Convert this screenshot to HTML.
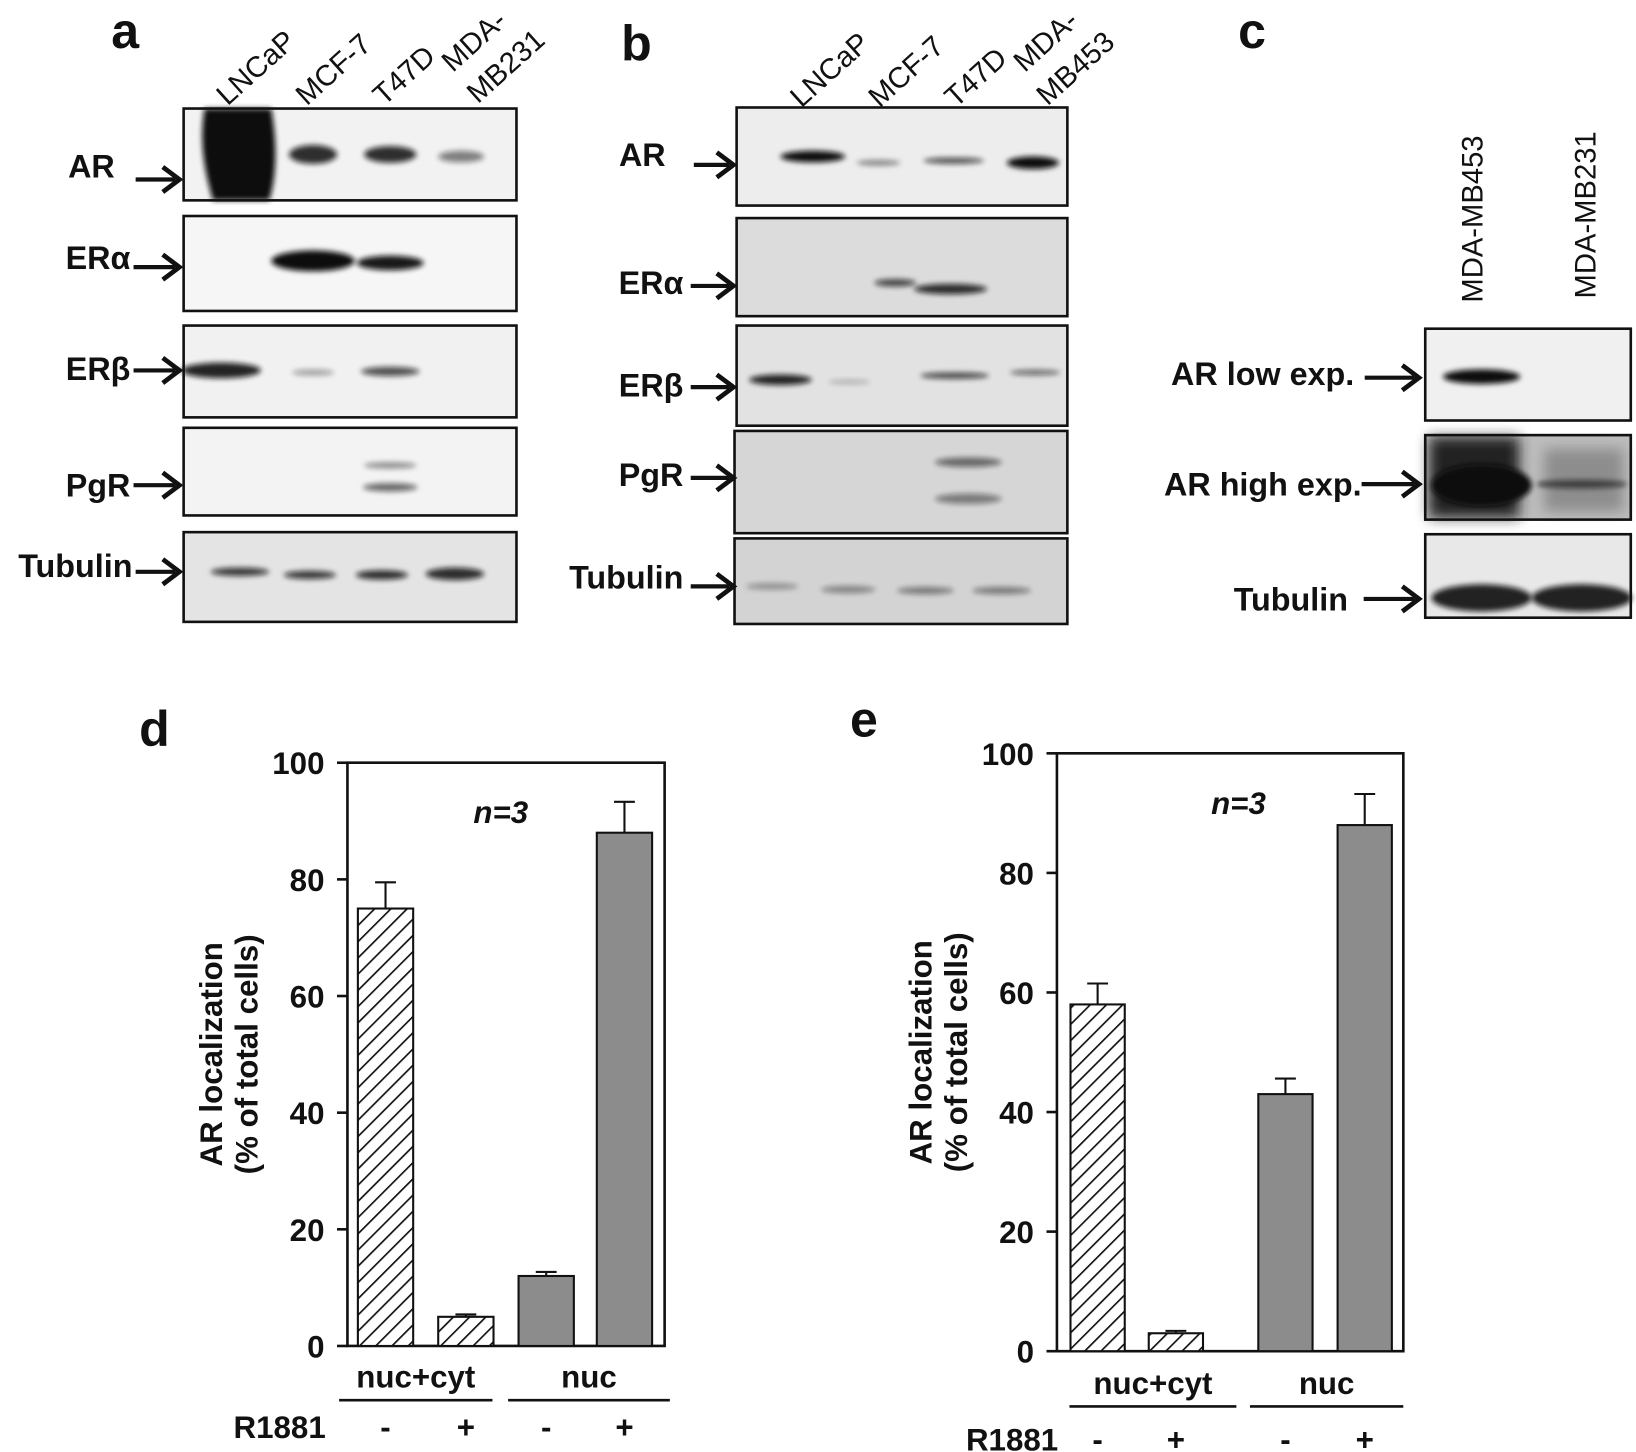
<!DOCTYPE html>
<html><head><meta charset="utf-8"><style>
html,body{margin:0;padding:0;background:#fff;}
svg{display:block;font-family:"Liberation Sans",Arial,sans-serif;}
.lbl{font-weight:bold;font-size:31px;fill:#111;}
.cl{font-size:28px;fill:#111;}
.tick{font-weight:bold;font-size:30px;fill:#111;}
.pl{font-weight:bold;font-size:48px;fill:#111;}
</style></head><body>
<svg id="fig" width="1636" height="1452" viewBox="0 0 1568 1391.6" xmlns="http://www.w3.org/2000/svg">
<defs>
<filter id="bl" x="-20%" y="-200%" width="140%" height="500%"><feGaussianBlur stdDeviation="2.5"/></filter>
<filter id="bl2" x="-20%" y="-50%" width="140%" height="200%"><feGaussianBlur stdDeviation="6"/></filter>
<pattern id="hatch" patternUnits="userSpaceOnUse" width="11" height="11" patternTransform="rotate(45)">
<rect width="11" height="11" fill="#fff"/><line x1="0" y1="0" x2="0" y2="11" stroke="#111" stroke-width="3.2"/></pattern>
</defs>
<g id="blots"></g>
<g id="chartD"></g>
<g id="chartE"></g>
</svg>
<script>
// ---- chart data ----
const categories = ["nuc+cyt -", "nuc+cyt +", "nuc -", "nuc +"];
const groups = ["nuc+cyt", "nuc"];
const treatment = ["-", "+", "-", "+"];
const yTicks = [0, 20, 40, 60, 80, 100];
const valuesD = [75, 5, 12, 88];
const errorsD = [4.5, 0.4, 0.7, 5.3];
const valuesE = [58, 3, 43, 88];
const errorsE = [3.5, 0.4, 2.6, 5.2];

const NS = "http://www.w3.org/2000/svg";
function mk(tag, attrs, parent, text){
  const e = document.createElementNS(NS, tag);
  for (const k in attrs) e.setAttribute(k, attrs[k]);
  if (text !== undefined) e.textContent = text;
  parent.appendChild(e);
  return e;
}
function arrow(g, x1, x2, y, name){
  const a = mk("g", {}, g);
  
  
  mk("line", {x1:x1, y1:y, x2:x2-4, y2:y, stroke:"#111", "stroke-width":4}, a);
  mk("polyline", {points:`${x2-16},${y-12} ${x2},${y} ${x2-16},${y+12}`, fill:"none", stroke:"#111", "stroke-width":4.5}, a);
}

// ---- blots ----
const B = document.getElementById("blots");
function blot(x, y, w, h, bg, name){
  const g = mk("g", {}, B);
  
  
  mk("rect", {x:x, y:y, width:w, height:h, fill:bg}, g);
  return g;
}
function frame(g, x, y, w, h){ mk("rect", {x:x, y:y, width:w, height:h, fill:"none", stroke:"#111", "stroke-width":2.5}, g); }
function band(g, cx, cy, w, h, op, blur){
  mk("ellipse", {cx:cx, cy:cy, rx:w/2, ry:h/2, fill:"#111", opacity:op, filter:blur||"url(#bl)"}, g);
}
function label(x, y, txt, name, cls, anchor){
  const t = mk("text", {x:x, y:y, class:cls||"lbl", "text-anchor":anchor||"end"}, B, txt);
  
  
  return t;
}
function panel(x, y, txt, name){ const t = mk("text", {x:x, y:y, class:"pl", "text-anchor":"middle"}, B, txt);   }
function rotLabel(x, y, txt, name, ang){
  const t = mk("text", {x:x, y:y, class:"cl", transform:`rotate(${ang} ${x} ${y})`}, B, txt);
  
  
}

// panel a
panel(120, 46, "a", "panel-a-label");
rotLabel(218, 102, "LNCaP", "lane-lncap-a", -42);
rotLabel(294, 102, "MCF-7", "lane-mcf7-a", -42);
rotLabel(368, 102, "T47D", "lane-t47d-a", -42);
rotLabel(434, 70, "MDA-", "lane-mda-a", -42);
rotLabel(458, 100, "MB231", "lane-mb231-a", -42);
let g;
g = blot(176, 104, 319, 88, "#f2f2f2", "blot-a-ar");
mk("path", {d:"M196 104 L260 104 C268 150 262 180 258 192 L204 192 C198 170 190 140 196 104Z", fill:"#0a0a0a", filter:"url(#bl)"}, g);
band(g, 300, 148, 46, 18, 0.85); band(g, 374, 148, 50, 16, 0.85); band(g, 442, 150, 44, 11, 0.5);
frame(g, 176, 104, 319, 88);
g = blot(176, 207, 319, 91, "#f6f6f6", "blot-a-eralpha");
band(g, 300, 250, 80, 20, 1); band(g, 374, 252, 64, 14, 0.95);
frame(g, 176, 207, 319, 91);
g = blot(176, 312, 319, 88, "#f1f1f1", "blot-a-erbeta");
band(g, 212, 355, 76, 15, 0.9); band(g, 300, 357, 40, 6, 0.35); band(g, 374, 356, 56, 9, 0.7);
frame(g, 176, 312, 319, 88);
g = blot(176, 410, 319, 84, "#f3f3f3", "blot-a-pgr");
band(g, 374, 446, 50, 6, 0.45); band(g, 374, 467, 52, 8, 0.6);
frame(g, 176, 410, 319, 84);
g = blot(176, 510, 319, 86, "#e4e4e4", "blot-a-tubulin");
band(g, 230, 548, 56, 8, 0.8); band(g, 297, 551, 50, 8, 0.8); band(g, 366, 551, 50, 9, 0.85); band(g, 436, 550, 56, 12, 0.85);
frame(g, 176, 510, 319, 86);
label(110, 170, "AR", "label-a-ar"); arrow(B, 130, 172, 172, "arrow-a-ar");
label(125, 258, "ERα", "label-a-eralpha"); arrow(B, 128, 172, 256, "arrow-a-eralpha");
label(125, 364, "ERβ", "label-a-erbeta"); arrow(B, 128, 172, 355, "arrow-a-erbeta");
label(125, 476, "PgR", "label-a-pgr"); arrow(B, 128, 172, 465, "arrow-a-pgr");
label(127, 553, "Tubulin", "label-a-tubulin"); arrow(B, 130, 172, 548, "arrow-a-tubulin");

// panel b
panel(610, 58, "b", "panel-b-label");
rotLabel(768, 104, "LNCaP", "lane-lncap-b", -42);
rotLabel(843, 104, "MCF-7", "lane-mcf7-b", -42);
rotLabel(916, 104, "T47D", "lane-t47d-b", -42);
rotLabel(982, 70, "MDA-", "lane-mda-b", -42);
rotLabel(1004, 102, "MB453", "lane-mb453-b", -42);
g = blot(706, 103, 317, 94, "#ededed", "blot-b-ar");
band(g, 779, 150, 62, 11, 1); band(g, 842, 156, 42, 5, 0.5); band(g, 914, 154, 58, 6, 0.7); band(g, 990, 156, 50, 12, 1);
frame(g, 706, 103, 317, 94);
g = blot(706, 209, 317, 94, "#dcdcdc", "blot-b-eralpha");
band(g, 858, 271, 40, 7, 0.75); band(g, 911, 277, 70, 10, 0.85);
frame(g, 706, 209, 317, 94);
g = blot(706, 312, 317, 96, "#e2e2e2", "blot-b-erbeta");
band(g, 748, 364, 60, 10, 0.9); band(g, 814, 366, 40, 4, 0.25); band(g, 915, 360, 66, 6, 0.75); band(g, 992, 357, 48, 5, 0.6);
frame(g, 706, 312, 317, 96);
g = blot(704, 413, 319, 98, "#d6d6d6", "blot-b-pgr");
band(g, 928, 443, 64, 9, 0.55); band(g, 928, 478, 64, 10, 0.45);
frame(g, 704, 413, 319, 98);
g = blot(704, 516, 319, 82, "#d3d3d3", "blot-b-tubulin");
band(g, 740, 562, 50, 6, 0.35); band(g, 813, 565, 52, 7, 0.4); band(g, 887, 566, 54, 7, 0.45); band(g, 960, 566, 56, 7, 0.45);
frame(g, 704, 516, 319, 82);
label(638, 159, "AR", "label-b-ar"); arrow(B, 665, 703, 158, "arrow-b-ar");
label(655, 282, "ERα", "label-b-eralpha"); arrow(B, 662, 703, 274, "arrow-b-eralpha");
label(655, 380, "ERβ", "label-b-erbeta"); arrow(B, 662, 703, 371, "arrow-b-erbeta");
label(655, 466, "PgR", "label-b-pgr"); arrow(B, 662, 703, 458, "arrow-b-pgr");
label(655, 564, "Tubulin", "label-b-tubulin"); arrow(B, 662, 703, 562, "arrow-b-tubulin");

// panel c
panel(1200, 46, "c", "panel-c-label");
rotLabel(1421, 290, "MDA-MB453", "lane-mdamb453-c", -90);
rotLabel(1529, 286, "MDA-MB231", "lane-mdamb231-c", -90);
g = blot(1366, 315, 197, 88, "#f0f0f0", "blot-c-ar-low");
band(g, 1420, 361, 74, 14, 1);
frame(g, 1366, 315, 197, 88);
g = blot(1366, 417, 197, 81, "#bdbdbd", "blot-c-ar-high");
mk("rect", {x:1370, y:419, width:86, height:77, fill:"#222", filter:"url(#bl2)"}, g);
band(g, 1420, 465, 96, 40, 1); band(g, 1516, 464, 86, 8, 0.85);
mk("rect", {x:1480, y:430, width:76, height:60, fill:"#555", opacity:0.45, filter:"url(#bl2)"}, g);
frame(g, 1366, 417, 197, 81);
g = blot(1366, 512, 197, 80, "#e8e8e8", "blot-c-tubulin");
band(g, 1420, 573, 96, 26, 0.9); band(g, 1516, 573, 96, 26, 0.9);
frame(g, 1366, 512, 197, 80);
label(1298, 369, "AR low exp.", "label-c-ar-low"); arrow(B, 1308, 1360, 362, "arrow-c-ar-low");
label(1305, 475, "AR high exp.", "label-c-ar-high"); arrow(B, 1305, 1360, 464, "arrow-c-ar-high");
label(1292, 585, "Tubulin", "label-c-tubulin"); arrow(B, 1307, 1360, 574, "arrow-c-tubulin");

// ---- bar charts ----
function chart(id, letter, cfg, values, errors){
  const G = document.getElementById(id);
  const y = v => cfg.y0 + (cfg.y100 - cfg.y0) * v / 100;
  const xb = i => cfg.barX[i];
  const pl = mk("text", {x:cfg.axisX - 185, y:cfg.y100 - 16, class:"pl", "text-anchor":"middle"}, G, letter);
  
  
  const fr = mk("path", {d:`M${cfg.axisX} ${cfg.y100} H${cfg.right} V${cfg.y0} H${cfg.axisX} Z`, fill:"none", stroke:"#111", "stroke-width":2.5}, G);
  
  
  yTicks.forEach(t => {
    mk("line", {x1:cfg.axisX - 10, x2:cfg.axisX, y1:y(t), y2:y(t), stroke:"#111", "stroke-width":2.5}, G);
    const tx = mk("text", {x:cfg.axisX - 22, y:y(t) + 11, class:"tick", "text-anchor":"end"}, G, String(t));
    
    
  });
  const yt = mk("text", {transform:`translate(${cfg.axisX - 112},${(cfg.y0 + cfg.y100) / 2}) rotate(-90)`, "text-anchor":"middle", style:"font-size:30px;font-weight:bold;fill:#111"}, G);
  
  
  mk("tspan", {x:0, dy:-8}, yt, "AR localization");
  mk("tspan", {x:0, dy:34}, yt, "(% of total cells)");
  const n = mk("text", {x:cfg.nX, y:cfg.y100 + 58, class:"tick", "font-style":"italic", "text-anchor":"middle"}, G, "n=3");
  
  
  values.forEach((v, i) => {
    const hatch = i < 2;
    const r = mk("rect", {x:xb(i), y:y(v), width:cfg.bw, height:y(0) - y(v), fill:hatch ? "url(#hatch)" : "#8c8c8c", stroke:"#111", "stroke-width":2}, G);
    
    
    const cx = xb(i) + cfg.bw / 2;
    const eb = mk("path", {d:`M${cx} ${y(v)} V${y(v + errors[i])} M${cx - 10} ${y(v + errors[i])} H${cx + 10}`, stroke:"#111", "stroke-width":2, fill:"none"}, G);
    
    
    const s = mk("text", {x:cx, y:cfg.signY, class:"tick", "text-anchor":"middle"}, G, treatment[i]);
    
    
  });
  groups.forEach((gname, k) => {
    const x1 = cfg.lines[k][0], x2 = cfg.lines[k][1];
    mk("line", {x1:x1, x2:x2, y1:cfg.lineY, y2:cfg.lineY, stroke:"#111", "stroke-width":2.5}, G);
    const gt = mk("text", {x:(x1 + x2) / 2, y:cfg.lineY - 12, class:"tick", "text-anchor":"middle"}, G, gname);
    
    
  });
  const r1 = mk("text", {x:cfg.rX, y:cfg.signY, class:"tick", "text-anchor":"middle"}, G, "R1881");
  
  
}
chart("chartD", "d", {axisX:333, right:637, y0:1290, y100:731, barX:[343, 420, 497, 572], bw:53, nX:480,
  lines:[[325, 472], [487, 642]], lineY:1342, signY:1378, rX:268}, valuesD, errorsD);
chart("chartE", "e", {axisX:1013, right:1345, y0:1295, y100:722, barX:[1026, 1101, 1206, 1282], bw:52, nX:1187,
  lines:[[1025, 1185], [1198, 1345]], lineY:1348, signY:1390, rX:970}, valuesE, errorsE);
</script>
</body></html>
